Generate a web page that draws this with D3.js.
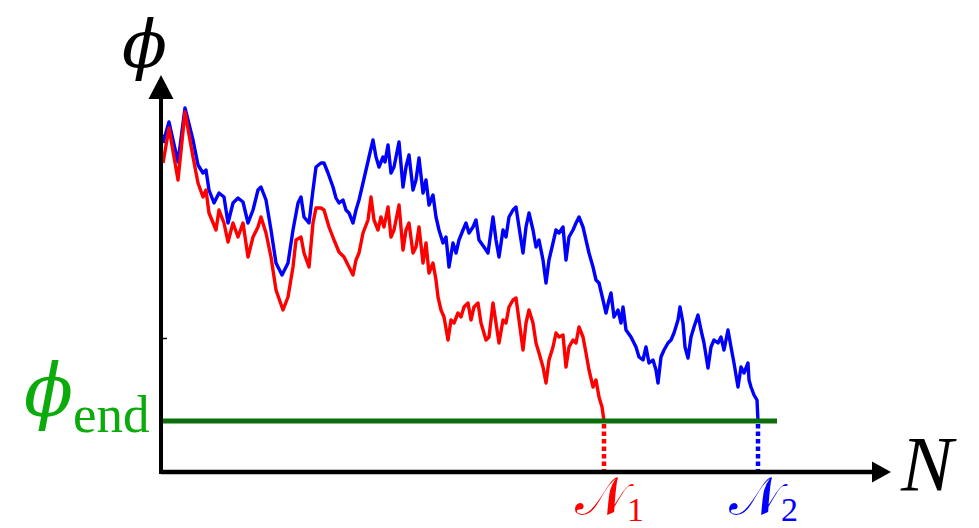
<!DOCTYPE html>
<html>
<head>
<meta charset="utf-8">
<script src="https://cdn.jsdelivr.net/npm/d3@7"></script>
<style>
  body { margin: 0; background: #fff; }
  svg { display: block; }
  .serif { font-family: "Liberation Serif", "DejaVu Serif", serif; }
  .greek { font-family: "DejaVu Serif", "Liberation Serif", serif; }
</style>
</head>
<body>
<svg id="chart" width="979" height="528"></svg>
<script>
// Two realisations of the field trajectory phi(N), both stopped at phi_end
const redN = [2, 8, 17, 24, 32, 37, 42, 45, 48, 55, 58, 63, 67, 72, 77, 82, 87, 92, 97, 100,
  105, 110, 115, 122, 127, 132, 135, 140, 143, 148, 152, 155, 160, 163, 168, 173, 178, 183, 188, 192,
  195, 198, 202, 207, 210, 213, 217, 220, 223, 227, 230, 233, 238, 242, 245, 248, 252, 255, 258, 262,
  265, 268, 272, 275, 277, 280, 283, 287, 290, 293, 297, 300, 303, 307, 310, 313, 317, 320, 325, 328,
  332, 335, 338, 342, 345, 348, 352, 355, 358, 362, 365, 368, 372, 375, 378, 382, 385, 388, 392, 395,
  398, 402, 405, 408, 412, 415, 418, 422, 425, 428, 432, 435, 438, 441];
const redPhi = [309, 344, 292, 360, 315, 289, 275, 282, 259, 242, 262, 249, 230, 249, 235, 249, 215, 235, 245, 255,
  239, 215, 182, 162, 175, 205, 232, 235, 219, 205, 249, 264, 264, 262, 245, 232, 220, 215, 205, 197,
  212, 219, 239, 252, 275, 252, 242, 255, 245, 265, 235, 242, 267, 222, 242, 249, 219, 225, 245, 209,
  229, 199, 209, 192, 175, 162, 155, 132, 152, 149, 159, 155, 165, 169, 152, 165, 169, 149, 132, 135,
  169, 149, 129, 152, 149, 165, 172, 174, 152, 122, 149, 162, 149, 129, 119, 105, 89, 112, 125, 139,
  135, 137, 105, 125, 132, 129, 145, 135, 119, 102, 85, 92, 75, 65];

const blueN = [2, 8, 17, 24, 32, 37, 42, 45, 48, 53, 58, 63, 67, 72, 77, 82, 87, 92, 97, 100,
  105, 110, 115, 121, 127, 132, 137, 140, 143, 148, 152, 155, 160, 163, 167, 172, 175, 178, 182, 185,
  188, 192, 195, 198, 202, 205, 208, 212, 215, 218, 222, 224, 227, 230, 233, 238, 242, 245, 248, 252,
  255, 258, 262, 265, 268, 272, 275, 278, 282, 285, 288, 292, 295, 298, 302, 305, 308, 312, 315, 318,
  323, 327, 332, 335, 338, 342, 345, 348, 352, 355, 358, 362, 365, 368, 372, 375, 378, 382, 385, 388,
  392, 395, 398, 402, 405, 408, 412, 415, 418, 422, 425, 428, 432, 435, 438, 442, 445, 448, 450, 453,
  457, 460, 462, 465, 470, 475, 478, 482, 485, 488, 492, 495, 497, 500, 503, 507, 510, 513, 517, 519,
  522, 524, 527, 530, 533, 537, 540, 543, 547, 550, 553, 557, 560, 563, 567, 570, 573, 577, 580, 583,
  587, 588, 590, 593, 596];
const bluePhi = [329, 350, 310, 364, 332, 307, 299, 302, 282, 269, 279, 275, 249, 269, 274, 270, 249, 262, 282, 285,
  272, 242, 209, 197, 209, 242, 269, 275, 255, 249, 282, 305, 309, 309, 299, 285, 274, 269, 272, 262,
  259, 249, 262, 272, 289, 302, 315, 332, 315, 305, 315, 310, 327, 299, 305, 330, 285, 305, 317, 282,
  292, 314, 279, 292, 267, 277, 255, 242, 229, 235, 205, 229, 219, 232, 242, 249, 239, 245, 252, 232,
  225, 219, 255, 232, 215, 242, 235, 255, 262, 265, 245, 219, 245, 259, 242, 225, 232, 212, 189, 212,
  229, 242, 239, 245, 212, 235, 242, 249, 255, 245, 232, 219, 205, 192, 189, 172, 159, 172, 179, 155,
  162, 149, 165, 142, 135, 125, 115, 112, 125, 109, 112, 102, 89, 115, 122, 129, 132, 139, 152, 165,
  149, 125, 114, 135, 145, 157, 142, 129, 104, 125, 132, 129, 135, 122, 142, 125, 109, 85, 105, 99,
  109, 92, 85, 77, 72];

const phiEnd = 51;      // end-of-inflation value
const N1 = 443;         // exit time of the red path
const N2 = 597;         // exit time of the blue path
const phiTicks = [134, 337];

const svg = d3.select("#chart");

const x = d3.scaleLinear().domain([0, 730]).range([161, 891]);
const y = d3.scaleLinear().domain([0, 397]).range([472, 75]);

const black = "#000", red = "#ff0000", blue = "#0000ff";
const greenLine = "#0b6e0b", greenText = "#0aab0a";

// small ticks on the phi axis
const yAxis = d3.axisRight(y).tickValues(phiTicks).tickSize(6).tickFormat("");
const gy = svg.append("g").attr("transform", `translate(${x(0)},0)`).call(yAxis);
gy.select(".domain").remove();
gy.selectAll(".tick line").attr("stroke", black).attr("stroke-width", 1.5);

// trajectories
const line = d3.line().x(d => x(d[0])).y(d => y(d[1]));
const bluePts = blueN.map((n, i) => [n, bluePhi[i]]).concat([[N2, phiEnd]]);
const redPts = redN.map((n, i) => [n, redPhi[i]]).concat([[N1, phiEnd]]);

svg.append("path").datum(bluePts).attr("d", line)
  .attr("fill", "none").attr("stroke", blue).attr("stroke-width", 3.4)
  .attr("stroke-linejoin", "round");
svg.append("path").datum(redPts).attr("d", line)
  .attr("fill", "none").attr("stroke", red).attr("stroke-width", 3.4)
  .attr("stroke-linejoin", "round");

// phi_end level
svg.append("line")
  .attr("x1", x(0)).attr("x2", x(616))
  .attr("y1", y(phiEnd)).attr("y2", y(phiEnd))
  .attr("stroke", greenLine).attr("stroke-width", 5);

// dotted drops to the exit times
[[N1, red], [N2, blue]].forEach(([n, c]) => {
  svg.append("line")
    .attr("x1", x(n)).attr("x2", x(n))
    .attr("y1", y(phiEnd) + 3).attr("y2", y(0))
    .attr("stroke", c).attr("stroke-width", 4.5)
    .attr("stroke-dasharray", "4.5,3");
});

// axes with arrow heads
const x0 = x(0), y0 = y(0);
const xTip = x(730), yTip = y(397);
svg.append("line").attr("x1", x0).attr("x2", xTip - 18).attr("y1", y0).attr("y2", y0)
  .attr("stroke", black).attr("stroke-width", 4.5);
svg.append("line").attr("x1", x0).attr("x2", x0).attr("y1", y0 + 2).attr("y2", yTip + 22)
  .attr("stroke", black).attr("stroke-width", 4);
svg.append("path")
  .attr("d", `M${xTip},${y0} L${xTip - 19},${y0 - 10.5} L${xTip - 19},${y0 + 10.5} Z`)
  .attr("fill", black);
svg.append("path")
  .attr("d", `M${x0},${yTip} L${x0 - 12.5},${yTip + 24} L${x0 + 12.5},${yTip + 24} Z`)
  .attr("fill", black);

// labels
svg.append("text").attr("class", "greek")
  .attr("x", 122).attr("y", 67)
  .attr("font-size", 66).attr("font-style", "italic").attr("fill", black)
  .text("ϕ");

svg.append("text").attr("class", "serif")
  .attr("x", 901).attr("y", 490)
  .attr("font-size", 78).attr("font-style", "italic").attr("fill", black)
  .text("N");

const endLabel = svg.append("text").attr("x", 24).attr("y", 416).attr("fill", greenText);
endLabel.append("tspan").attr("class", "greek")
  .attr("font-size", 72).attr("font-style", "italic").text("ϕ");
endLabel.append("tspan").attr("class", "serif")
  .attr("font-size", 53).attr("dy", 16).text("end");

[[N1, red, "1"], [N2, blue, "2"]].forEach(([n, c, sub]) => {
  const t = svg.append("text").attr("class", "serif")
    .attr("x", x(n) - 29).attr("y", 515).attr("fill", c);
  t.append("tspan").attr("font-size", 54).text("𝒩");
  t.append("tspan").attr("font-size", 34).attr("dy", 6).text(sub);
});
</script>
</body>
</html>
